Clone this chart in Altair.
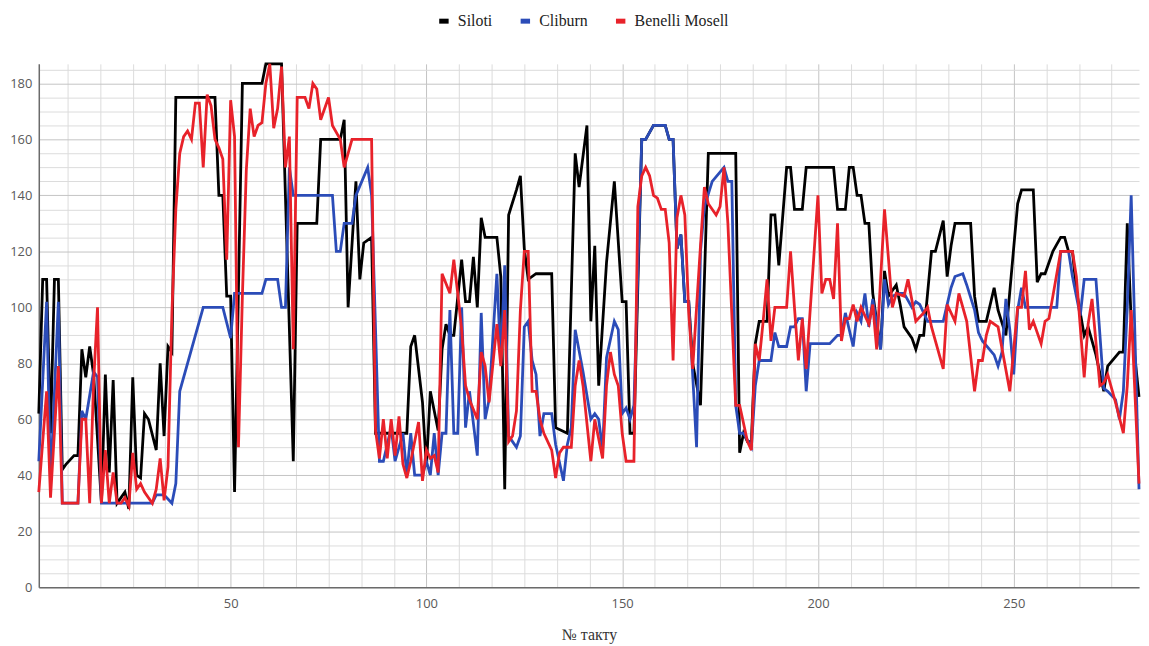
import altair as alt
import pandas as pd

# (bar number, tempo) vertices
siloti = [(1,62),(2,110),(3,110),(4,55),(5,110),(6,110),(7,42),(8,44),(10,47),(11,47),(12,85),(13,75),(14,86),(15,76),(17,30),(18,76),(19,41),(20,74),(21,30),(22,32),(23,34),(24,28),(25,75),(26,40),(27,39),(28,62),(29,60),(31,49),(32,80),(33,54),(34,86),(35,84),(36,175),(46,175),(47,140),(48,140),(49,104),(50,104),(51,34),(53,180),(58,180),(59,187),(63,187),(66,45),(67,130),(72,130),(73,160),(78,160),(79,167),(80,100),(82,145),(83,110),(84,123),(86,125),(87,55),(95,55),(96,86),(97,90),(99,66),(100,43),(101,70),(103,56),(104,85),(105,94),(106,90),(107,90),(109,117),(110,102),(111,102),(112,118),(113,100),(114,132),(115,125),(118,125),(119,111),(120,35),(121,133),(123,142),(124,147),(125,121),(126,110),(128,112),(132,112),(133,57),(136,55),(138,155),(139,143),(141,165),(142,95),(143,122),(144,72),(146,116),(148,145),(150,102),(151,102),(152,55),(153,55),(155,160),(156,160),(158,165),(161,165),(162,160),(163,160),(164,121),(165,126),(166,102),(167,102),(168,80),(170,65),(172,155),(179,155),(180,48),(181,55),(182,52),(183,52),(184,87),(185,95),(187,95),(188,133),(189,133),(190,115),(192,150),(193,150),(194,135),(196,135),(197,150),(204,150),(205,135),(207,135),(208,150),(209,150),(210,140),(211,140),(212,130),(213,130),(214,105),(216,85),(217,113),(218,104),(220,108),(221,101),(222,93),(224,89),(225,85),(226,90),(227,90),(229,120),(230,120),(232,131),(233,111),(234,122),(235,130),(239,130),(240,104),(241,95),(243,95),(245,107),(246,99),(248,90),(251,137),(252,142),(255,142),(256,109),(257,112),(258,112),(260,120),(262,125),(263,125),(264,120),(265,120),(266,106),(268,90),(269,93),(271,83),(273,70),(274,79),(277,84),(278,84),(279,130),(280,95),(282,68)]

cliburn = [(1,45),(3,102),(4,37),(6,102),(7,30),(11,30),(12,63),(13,60),(15,77),(16,75),(17,30),(30,30),(31,33),(33,33),(35,30),(36,37),(37,70),(43,100),(48,100),(50,89),(51,105),(58,105),(59,110),(62,110),(63,100),(64,100),(65,150),(66,140),(76,140),(77,120),(78,120),(79,130),(81,130),(82,140),(85,150),(86,140),(88,45),(89,45),(91,57),(92,45),(94,55),(95,40),(96,55),(97,40),(99,40),(100,45),(101,40),(102,55),(103,40),(104,55),(105,55),(106,99),(107,55),(108,55),(109,100),(110,57),(111,70),(113,47),(114,98),(115,60),(116,67),(118,112),(119,80),(120,115),(121,54),(122,52),(123,50),(124,54),(125,93),(126,95),(127,81),(128,76),(129,54),(130,62),(132,62),(133,51),(135,38),(136,51),(137,57),(138,92),(140,77),(142,60),(143,62),(144,60),(145,49),(146,82),(148,95),(149,92),(150,62),(151,64),(152,60),(153,65),(155,160),(156,160),(158,165),(161,165),(162,160),(163,160),(164,121),(165,126),(166,102),(167,102),(169,50),(170,120),(171,136),(173,145),(176,150),(177,145),(178,145),(179,65),(180,55),(181,55),(183,50),(184,72),(185,81),(188,81),(189,91),(190,86),(192,86),(193,93),(194,93),(195,96),(196,96),(197,70),(198,87),(203,87),(205,90),(206,90),(207,98),(208,92),(209,86),(210,98),(211,95),(212,105),(213,93),(214,103),(216,85),(217,110),(218,101),(219,104),(221,105),(222,105),(224,100),(225,102),(226,101),(227,98),(228,95),(232,95),(234,107),(235,111),(237,112),(238,108),(240,99),(241,91),(242,88),(245,83),(246,79),(247,84),(248,103),(249,92),(250,76),(251,99),(252,107),(253,100),(261,100),(262,120),(264,120),(265,111),(267,97),(268,110),(271,110),(273,71),(274,70),(276,67),(277,60),(278,70),(279,100),(280,140),(282,35)]

benelli = [(1,34),(3,70),(4,32),(6,79),(7,30),(11,30),(12,60),(13,60),(14,30),(15,73),(16,100),(17,30),(18,49),(19,30),(20,41),(21,30),(22,30),(23,32),(24,29),(25,48),(26,35),(27,37),(28,34),(30,30),(31,35),(32,46),(33,31),(34,43),(35,98),(36,135),(37,155),(38,161),(39,163),(40,160),(41,173),(42,173),(43,150),(44,176),(45,172),(46,160),(47,157),(48,153),(49,117),(50,174),(51,161),(52,50),(53,104),(54,149),(55,171),(56,161),(57,165),(58,166),(59,180),(60,187),(61,164),(62,171),(63,186),(64,150),(65,161),(66,85),(67,175),(69,175),(70,171),(71,180),(72,178),(73,167),(75,175),(76,165),(78,160),(79,150),(81,160),(86,160),(87,56),(88,46),(89,60),(90,46),(91,60),(92,47),(93,61),(94,44),(95,39),(96,45),(98,59),(99,38),(100,49),(101,46),(102,47),(103,41),(104,112),(106,105),(107,117),(108,105),(109,92),(110,72),(111,67),(113,60),(114,84),(115,79),(116,66),(118,94),(119,79),(120,99),(121,52),(122,54),(123,63),(124,99),(125,120),(126,120),(127,70),(128,70),(129,60),(130,55),(132,49),(133,39),(134,48),(135,50),(137,50),(138,72),(139,81),(140,72),(142,45),(143,60),(145,46),(146,72),(147,84),(148,76),(149,72),(150,55),(151,45),(153,45),(154,136),(155,147),(156,150),(157,147),(158,140),(159,139),(160,135),(161,135),(162,123),(163,81),(164,132),(165,140),(166,133),(167,98),(168,78),(170,122),(171,143),(172,137),(174,133),(175,136),(176,150),(177,130),(179,65),(180,65),(182,52),(183,49),(184,87),(185,81),(186,95),(187,110),(188,88),(189,100),(192,100),(193,120),(194,100),(195,81),(196,96),(197,78),(200,140),(201,105),(202,110),(203,110),(204,103),(205,130),(206,88),(207,96),(208,96),(209,101),(210,95),(211,100),(213,94),(214,101),(215,85),(217,135),(219,100),(220,105),(222,104),(223,110),(225,95),(227,98),(228,100),(229,93),(232,78),(233,101),(235,95),(236,105),(238,95),(240,70),(241,81),(242,81),(243,90),(244,95),(246,93),(249,70),(251,100),(252,100),(253,113),(254,92),(255,95),(257,87),(258,95),(259,96),(260,104),(262,120),(265,120),(266,111),(268,75),(269,94),(270,103),(272,72),(273,73),(274,76),(276,66),(278,55),(279,72),(280,99),(282,37)]

series_names = ["Siloti", "Cliburn", "Benelli Mosell"]
series_colors = ["#000000", "#2b4cb8", "#e8222a"]
x_grid = [round(k * 50 / 6, 4) for k in range(1, 34)]
y_grid = list(range(0, 186, 5))

color_scale = alt.Scale(domain=series_names, range=series_colors)

x_axis = alt.Axis(
    values=x_grid,
    labelExpr="datum.value % 50 == 0 ? datum.label : ''",
    grid=True,
    gridColor={"condition": {"test": "datum.value % 50 == 0", "value": "#c4c4c4"}, "value": "#dcdcdc"},
    gridWidth=1,
    ticks=False,
    domainColor="#6b6b6b",
    domainWidth=1.5,
    labelFont="Open Sans",
    labelFontSize=13,
    labelColor="#595959",
    labelPadding=10,
    labelOverlap=False,
    labelFlush=False,
    title="№ такту",
    titleFont="Liberation Serif",
    titleFontSize=16,
    titleFontWeight="normal",
    titleColor="#333333",
    titlePadding=17,
)

y_axis = alt.Axis(
    values=y_grid,
    labelExpr="datum.value % 20 == 0 ? datum.label : ''",
    grid=True,
    gridColor={"condition": {"test": "datum.value % 20 == 0", "value": "#c4c4c4"}, "value": "#dcdcdc"},
    gridWidth=1,
    ticks=False,
    domainColor="#6b6b6b",
    domainWidth=1.5,
    labelFont="Open Sans",
    labelFontSize=13,
    labelColor="#595959",
    labelPadding=7,
    labelOverlap=False,
    title=None,
)

legend = alt.Legend(
    orient="none",
    legendX=400,
    legendY=-51,
    direction="horizontal",
    title=None,
    symbolType="stroke",
    symbolStrokeWidth=5,
    symbolSize=90,
    labelFont="Liberation Serif",
    labelFontSize=16,
    labelColor="#222222",
    labelOffset=6,
    columnPadding=18,
)

layers = []
for name, pts in zip(series_names, [siloti, cliburn, benelli]):
    df = pd.DataFrame({
        "bar": [p[0] for p in pts],
        "tempo": [p[1] for p in pts],
        "series": name,
    })
    layers.append(
        alt.Chart(df).mark_line(strokeWidth=2.8).encode(
            x=alt.X("bar:Q", scale=alt.Scale(domain=[1, 282], nice=False, zero=False), axis=x_axis),
            y=alt.Y("tempo:Q", scale=alt.Scale(domain=[0, 187], nice=False), axis=y_axis),
            color=alt.Color("series:N", scale=color_scale, legend=legend),
        )
    )

chart = alt.layer(*layers).properties(
    width=1108,
    height=527,
    autosize=alt.AutoSizeParams(type="none"),
    padding={"left": 31, "top": 54, "right": 2, "bottom": 58},
    background="white",
).configure_view(stroke=None)

chart.save("out.html", embed_options={"renderer": "svg", "actions": False})
